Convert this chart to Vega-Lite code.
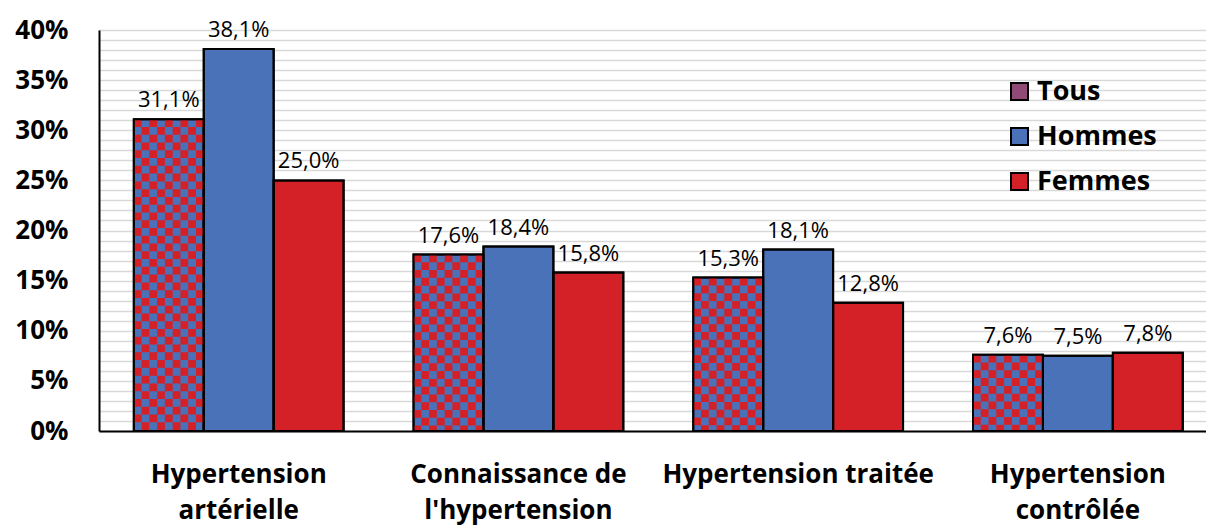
{
  "$schema": "https://vega.github.io/schema/vega-lite/v6.json",
  "autosize": {"type": "none"},
  "width": 1107,
  "height": 401,
  "padding": {"left": 99, "top": 30, "right": 0, "bottom": 95},
  "background": "white",
  "config": {
    "view": {"stroke": null},
    "font": "Open Sans",
    "locale": {"number": {"decimal": ",", "thousands": " ", "grouping": [3], "currency": ["", " €"]}},
    "axis": {"labelColor": "#000", "labelFont": "Open Sans"}
  },
  "data": {
    "values": [
      {"cat": "Hypertension artérielle", "g": "Tous", "v": 0.311},
      {"cat": "Hypertension artérielle", "g": "Hommes", "v": 0.381},
      {"cat": "Hypertension artérielle", "g": "Femmes", "v": 0.25},
      {"cat": "Connaissance de l'hypertension", "g": "Tous", "v": 0.176},
      {"cat": "Connaissance de l'hypertension", "g": "Hommes", "v": 0.184},
      {"cat": "Connaissance de l'hypertension", "g": "Femmes", "v": 0.158},
      {"cat": "Hypertension traitée", "g": "Tous", "v": 0.153},
      {"cat": "Hypertension traitée", "g": "Hommes", "v": 0.181},
      {"cat": "Hypertension traitée", "g": "Femmes", "v": 0.128},
      {"cat": "Hypertension contrôlée", "g": "Tous", "v": 0.076},
      {"cat": "Hypertension contrôlée", "g": "Hommes", "v": 0.075},
      {"cat": "Hypertension contrôlée", "g": "Femmes", "v": 0.078}
    ]
  },
  "encoding": {
    "x": {
      "field": "cat", "type": "nominal", "title": null,
      "scale": {
        "domain": ["Hypertension artérielle", "Connaissance de l'hypertension", "Hypertension traitée", "Hypertension contrôlée"],
        "paddingInner": 0.25, "paddingOuter": 0.1037, "align": 0.6
      },
      "axis": {
        "labelAngle": 0, "ticks": false, "domain": true, "domainColor": "#000", "domainWidth": 2,
        "labelFontSize": 26, "labelFontWeight": "bold", "labelPadding": 30, "labelLineHeight": 36,
        "labelFlush": false, "labelLimit": 0,
        "labelExpr": "datum.value === 'Hypertension artérielle' ? ['Hypertension', 'artérielle'] : datum.value === \"Connaissance de l'hypertension\" ? ['Connaissance de', \"l'hypertension\"] : datum.value === 'Hypertension contrôlée' ? ['Hypertension', 'contrôlée'] : datum.value"
      }
    },
    "y": {
      "field": "v", "type": "quantitative", "title": null,
      "scale": {"domain": [0, 0.4], "nice": false, "zero": true},
      "axis": {
        "values": [0, 0.01, 0.02, 0.03, 0.04, 0.05, 0.06, 0.07, 0.08, 0.09, 0.1, 0.11, 0.12, 0.13, 0.14, 0.15, 0.16, 0.17, 0.18, 0.19, 0.2, 0.21, 0.22, 0.23, 0.24, 0.25, 0.26, 0.27, 0.28, 0.29, 0.3, 0.31, 0.32, 0.33, 0.34, 0.35, 0.36, 0.37, 0.38, 0.39, 0.4],
        "labelExpr": "round(datum.value * 100) % 5 === 0 ? format(datum.value, '.0%') : ''",
        "labelOverlap": false, "labelFlush": false,
        "ticks": false, "domain": true, "domainColor": "#000", "domainWidth": 2,
        "grid": true, "gridColor": "#d9d9d9", "gridWidth": 1.5,
        "labelFontSize": 26, "labelFontWeight": "bold", "labelPadding": 31
      }
    }
  },
  "layer": [
    {
      "mark": {"type": "bar", "stroke": "#000", "strokeWidth": 2},
      "encoding": {
        "xOffset": {"field": "g", "type": "nominal", "scale": {"domain": ["Tous", "Hommes", "Femmes"], "paddingInner": 0, "paddingOuter": 0}},
        "fill": {
          "field": "g", "type": "nominal",
          "condition": {"test": "datum.g === 'Tous'", "value": "#4A72B8"},
          "scale": {"domain": ["Tous", "Hommes", "Femmes"], "range": ["#8F4A76", "#4A72B8", "#D42027"]},
          "legend": {
            "title": null, "orient": "none", "legendX": 907, "legendY": 48,
            "symbolType": "square", "symbolSize": 289, "symbolStrokeColor": "#000", "symbolStrokeWidth": 2, "symbolOpacity": 1,
            "labelFontSize": 27, "labelFontWeight": "bold", "labelColor": "#000", "labelFont": "Open Sans",
            "labelOffset": 4, "rowPadding": 17, "padding": 0
          }
        }
      }
    },
    {"mark": {"type": "rule", "color": "#D42027", "strokeWidth": 7.77, "strokeDash": [7.77, 7.77], "strokeCap": "butt", "strokeDashOffset": 0}, "transform": [{"filter": "datum.g === 'Tous'"}], "encoding": {"x": {"field": "cat", "type": "nominal", "bandPosition": 0.018519}, "y2": {"datum": 0}}},
    {"mark": {"type": "rule", "color": "#D42027", "strokeWidth": 7.77, "strokeDash": [7.77, 7.77], "strokeCap": "butt", "strokeDashOffset": 7.77}, "transform": [{"filter": "datum.g === 'Tous'"}], "encoding": {"x": {"field": "cat", "type": "nominal", "bandPosition": 0.055556}, "y2": {"datum": 0}}},
    {"mark": {"type": "rule", "color": "#D42027", "strokeWidth": 7.77, "strokeDash": [7.77, 7.77], "strokeCap": "butt", "strokeDashOffset": 0}, "transform": [{"filter": "datum.g === 'Tous'"}], "encoding": {"x": {"field": "cat", "type": "nominal", "bandPosition": 0.092593}, "y2": {"datum": 0}}},
    {"mark": {"type": "rule", "color": "#D42027", "strokeWidth": 7.77, "strokeDash": [7.77, 7.77], "strokeCap": "butt", "strokeDashOffset": 7.77}, "transform": [{"filter": "datum.g === 'Tous'"}], "encoding": {"x": {"field": "cat", "type": "nominal", "bandPosition": 0.12963}, "y2": {"datum": 0}}},
    {"mark": {"type": "rule", "color": "#D42027", "strokeWidth": 7.77, "strokeDash": [7.77, 7.77], "strokeCap": "butt", "strokeDashOffset": 0}, "transform": [{"filter": "datum.g === 'Tous'"}], "encoding": {"x": {"field": "cat", "type": "nominal", "bandPosition": 0.166667}, "y2": {"datum": 0}}},
    {"mark": {"type": "rule", "color": "#D42027", "strokeWidth": 7.77, "strokeDash": [7.77, 7.77], "strokeCap": "butt", "strokeDashOffset": 7.77}, "transform": [{"filter": "datum.g === 'Tous'"}], "encoding": {"x": {"field": "cat", "type": "nominal", "bandPosition": 0.203704}, "y2": {"datum": 0}}},
    {"mark": {"type": "rule", "color": "#D42027", "strokeWidth": 7.77, "strokeDash": [7.77, 7.77], "strokeCap": "butt", "strokeDashOffset": 0}, "transform": [{"filter": "datum.g === 'Tous'"}], "encoding": {"x": {"field": "cat", "type": "nominal", "bandPosition": 0.240741}, "y2": {"datum": 0}}},
    {"mark": {"type": "rule", "color": "#D42027", "strokeWidth": 7.77, "strokeDash": [7.77, 7.77], "strokeCap": "butt", "strokeDashOffset": 7.77}, "transform": [{"filter": "datum.g === 'Tous'"}], "encoding": {"x": {"field": "cat", "type": "nominal", "bandPosition": 0.277778}, "y2": {"datum": 0}}},
    {"mark": {"type": "rule", "color": "#D42027", "strokeWidth": 7.77, "strokeDash": [7.77, 7.77], "strokeCap": "butt", "strokeDashOffset": 0}, "transform": [{"filter": "datum.g === 'Tous'"}], "encoding": {"x": {"field": "cat", "type": "nominal", "bandPosition": 0.314815}, "y2": {"datum": 0}}},
    {
      "mark": {"type": "bar", "fill": "transparent", "stroke": "#000", "strokeWidth": 2},
      "encoding": {"xOffset": {"field": "g", "type": "nominal"}}
    },
    {
      "mark": {"type": "text", "baseline": "alphabetic", "dy": -12, "fontSize": 22, "font": "Open Sans", "color": "#000"},
      "encoding": {
        "xOffset": {"field": "g", "type": "nominal"},
        "text": {"field": "v", "type": "quantitative", "format": ".1%"}
      }
    }
  ]
}
